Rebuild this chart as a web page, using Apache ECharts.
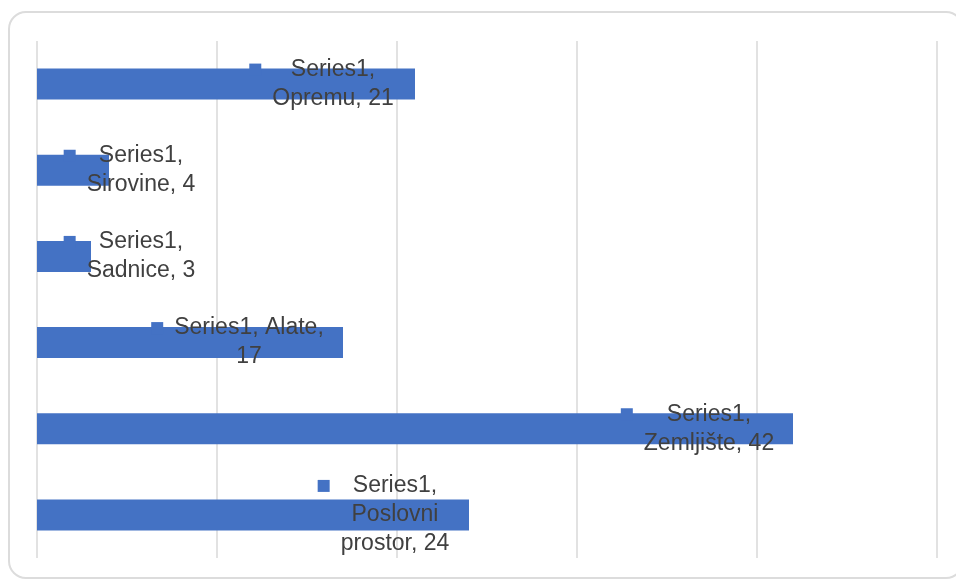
<!DOCTYPE html>
<html>
<head>
<meta charset="utf-8">
<script src="https://cdn.jsdelivr.net/npm/echarts@6/dist/echarts.min.js"></script>
<style>
  html, body { margin: 0; padding: 0; background: #fff; overflow: hidden; }
  #card {
    position: absolute; left: 8px; top: 11px;
    width: 956px; height: 568px;
    border: 2px solid #dcdcdc; border-radius: 18px;
    box-sizing: border-box;
  }
  #chart { position: absolute; left: 0; top: 0; width: 956px; height: 582px; }
</style>
</head>
<body>
<div id="card"></div>
<div id="chart"></div>
<script>
// categories listed bottom to top (as the category axis draws them)
const seriesName = 'Series1';
const categories = ['Poslovni prostor', 'Zemljište', 'Alate', 'Sadnice', 'Sirovine', 'Opremu'];
const values = [24, 42, 17, 3, 4, 21];
const axisTicks = [0, 10, 20, 30, 40, 50];

// where Excel put each label, relative to the bar end (px)
const labelShift = [-74, -84, -94, 50, 32, -82];

const FONT = '23px "Liberation Sans", Arial, sans-serif';
const WRAP = 160;
const blue = '#4472C4';

const ctx = document.createElement('canvas').getContext('2d');
ctx.font = FONT;

function wrapWords(text) {
  const words = text.split(' ');
  const lines = [];
  let cur = '';
  words.forEach(w => {
    const test = cur ? cur + ' ' + w : w;
    if (cur && ctx.measureText(test).width > WRAP) {
      lines.push(cur);
      cur = w;
    } else {
      cur = test;
    }
  });
  if (cur) lines.push(cur);
  return lines;
}

function labelText(name, value) {
  const lines = wrapWords(seriesName + ', ' + name + ', ' + value);
  return lines.map((l, i) => (i === 0 ? '{k|}{g|}' : '{l|}') + '{t|' + l + '}{r|}').join('\n');
}

const data = values.map((v, i) => ({
  value: v,
  label: { offset: [labelShift[i], 0] }
}));

const chart = echarts.init(document.getElementById('chart'));
chart.setOption({
  animation: false,
  grid: { left: 37, right: 19, top: 41, bottom: 24, containLabel: false },
  xAxis: {
    type: 'value',
    min: axisTicks[0],
    max: axisTicks[axisTicks.length - 1],
    interval: axisTicks[1] - axisTicks[0],
    axisLine: { show: false },
    axisTick: { show: false },
    axisLabel: { show: false },
    splitLine: { show: true, lineStyle: { color: '#d9d9d9', width: 1.5 } }
  },
  yAxis: {
    type: 'category',
    data: categories,
    axisLine: { show: false },
    axisTick: { show: false },
    axisLabel: { show: false },
    splitLine: { show: false }
  },
  series: [{
    name: seriesName,
    type: 'bar',
    data: data,
    barWidth: 31,
    itemStyle: { color: blue },
    label: {
      show: true,
      position: 'right',
      distance: 0,
      align: 'center',
      verticalAlign: 'middle',
      lineHeight: 29,
      formatter: p => labelText(p.name, p.value),
      rich: {
        k: { width: 12, height: 12, backgroundColor: blue, align: 'left' },
        g: { width: 11, align: 'left' },
        l: { width: 23, align: 'left' },
        r: { width: 23, align: 'right' },
        t: {
          align: 'center',
          fontSize: 23,
          lineHeight: 29,
          color: '#404040',
          fontFamily: '"Liberation Sans", Arial, sans-serif'
        }
      }
    }
  }]
});
</script>
</body>
</html>
